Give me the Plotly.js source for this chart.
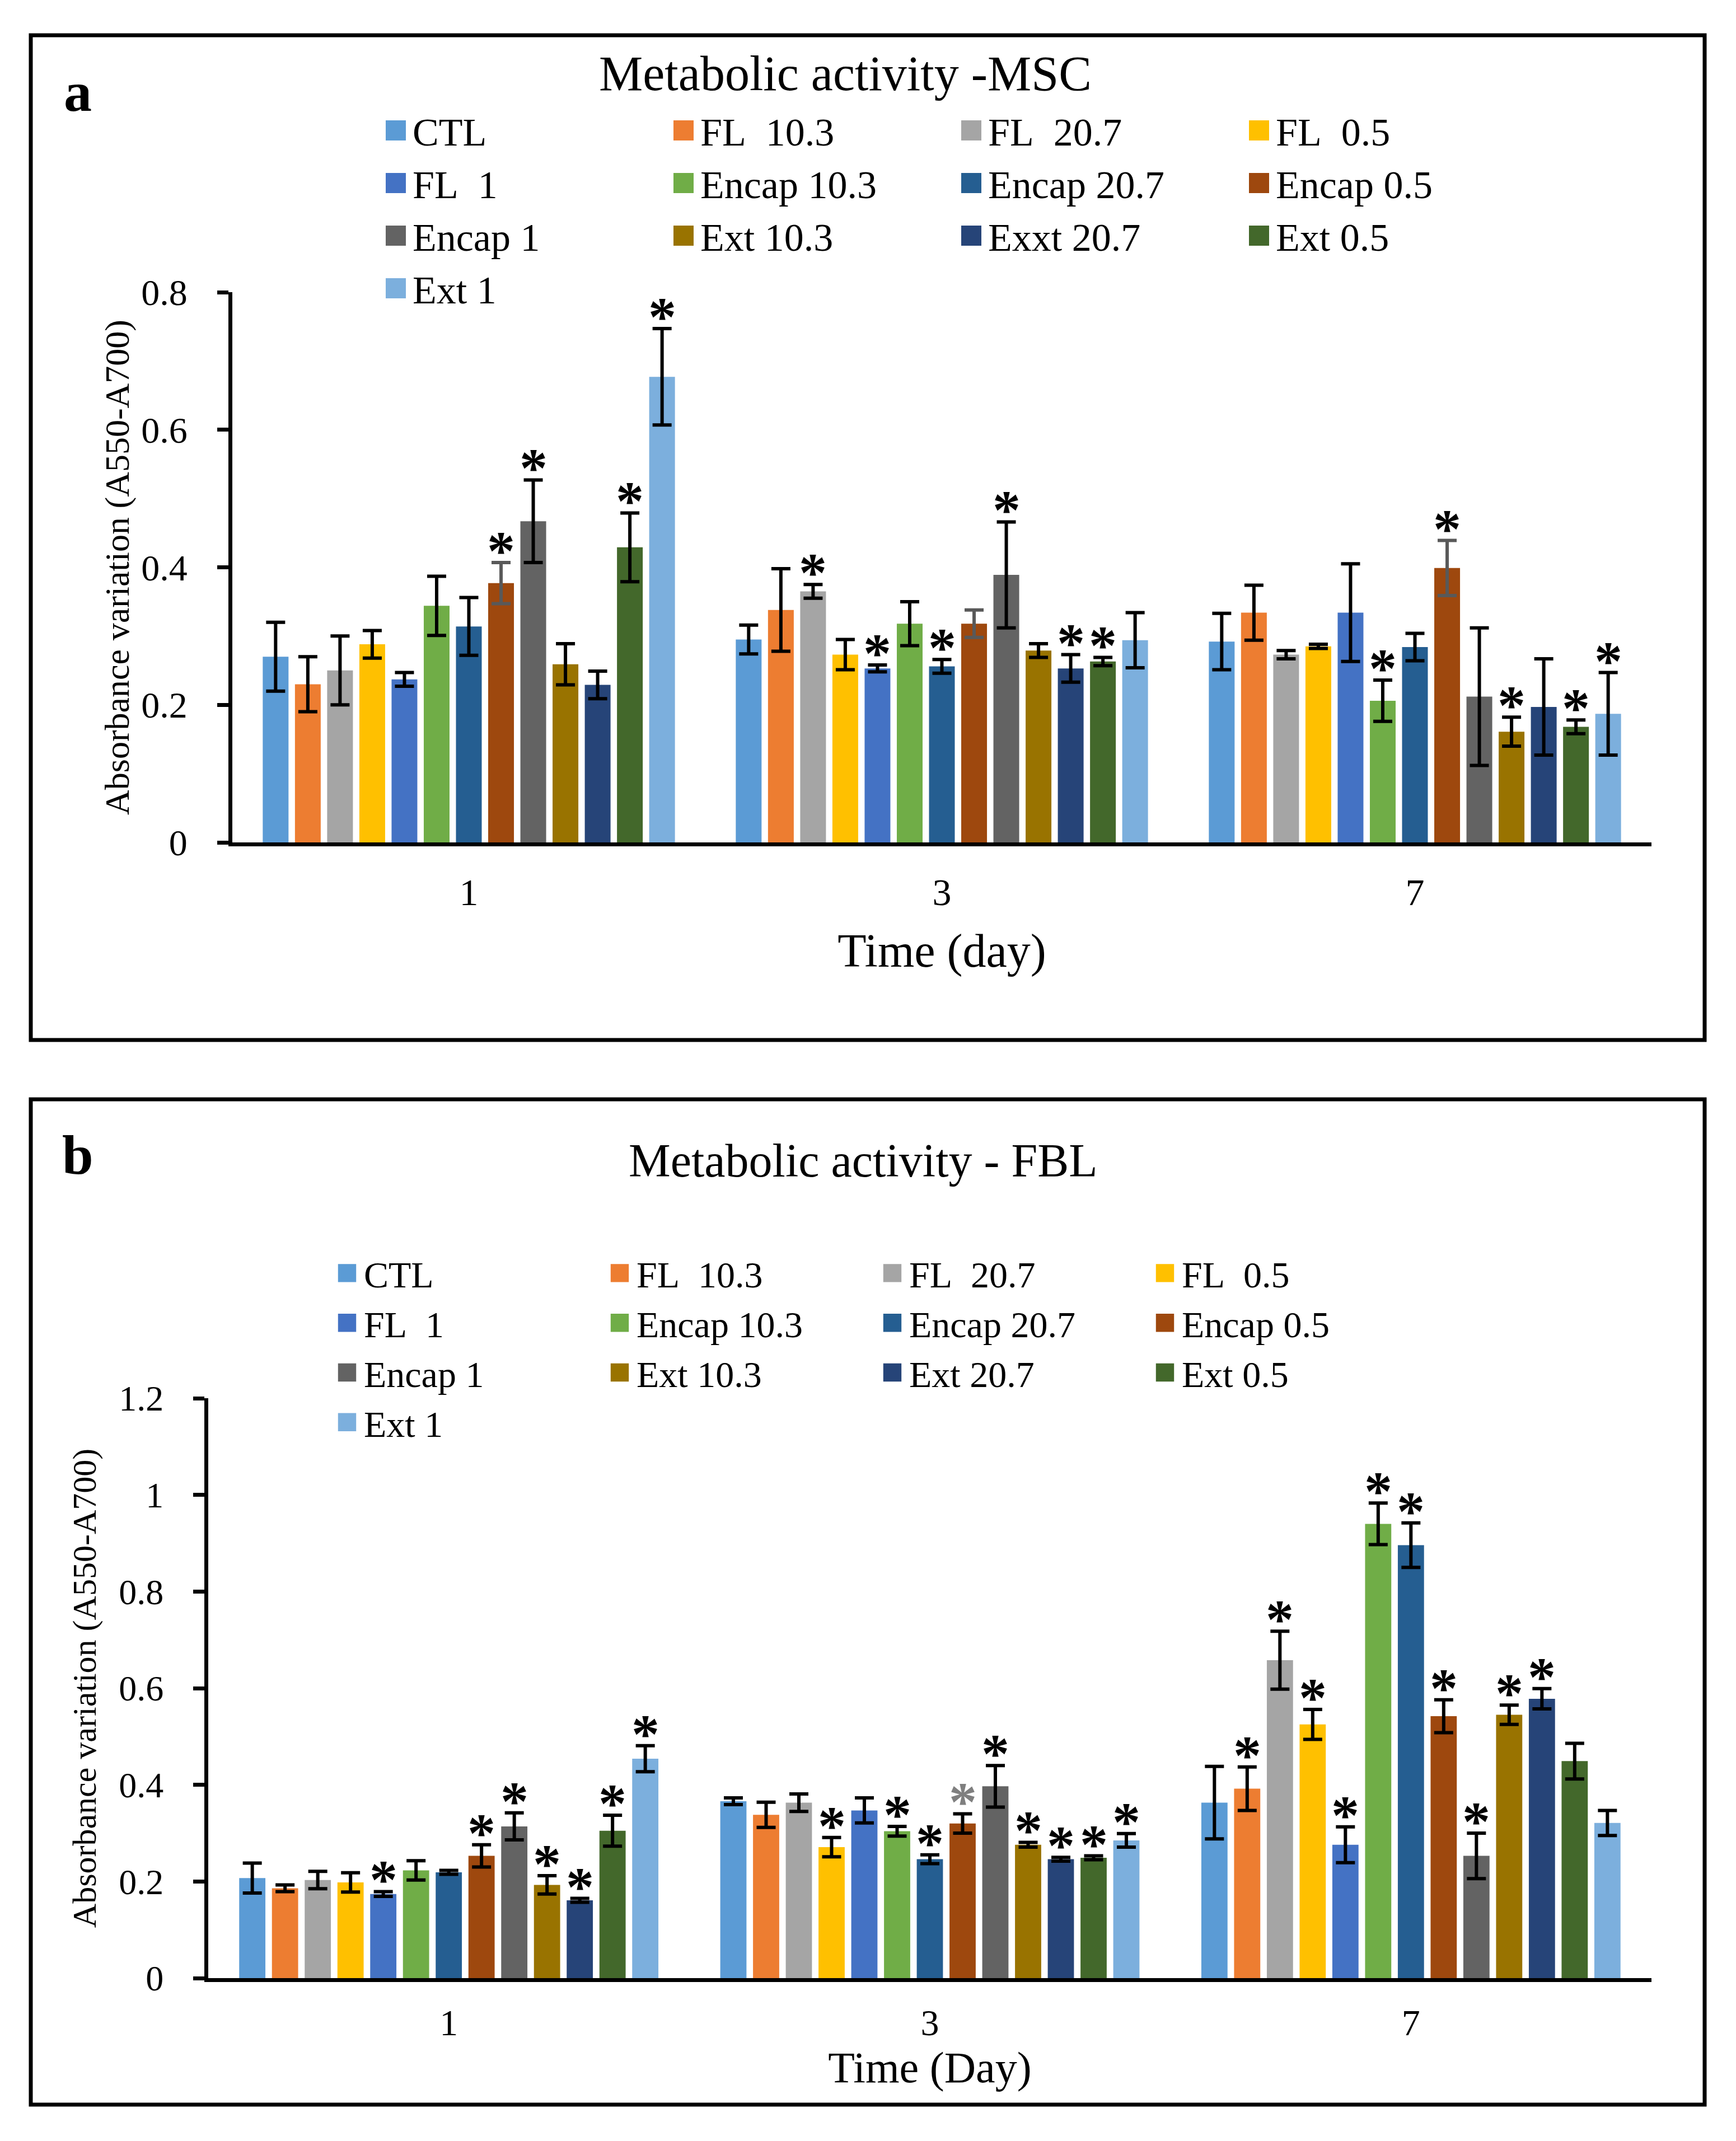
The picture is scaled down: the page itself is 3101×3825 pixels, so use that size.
<!DOCTYPE html>
<html>
<head>
<meta charset="utf-8">
<script src="https://cdn.plot.ly/plotly-3.0.1.min.js"></script>
<style>
html,body{margin:0;padding:0;background:#ffffff;}
#chart{width:3101px;height:3825px;}
</style>
</head>
<body>
<div id="chart"></div>
<script>
// ---------------- DATA ----------------
const days = ['1', '3', '7'];

const seriesA = ['CTL', 'FL\u00a0 10.3', 'FL\u00a0 20.7', 'FL\u00a0 0.5', 'FL\u00a0 1',
  'Encap 10.3', 'Encap 20.7', 'Encap 0.5', 'Encap 1', 'Ext 10.3', 'Exxt 20.7', 'Ext 0.5', 'Ext 1'];
const seriesB = ['CTL', 'FL\u00a0 10.3', 'FL\u00a0 20.7', 'FL\u00a0 0.5', 'FL\u00a0 1',
  'Encap 10.3', 'Encap 20.7', 'Encap 0.5', 'Encap 1', 'Ext 10.3', 'Ext 20.7', 'Ext 0.5', 'Ext 1'];

const colors = ['#5B9BD5', '#ED7D31', '#A5A5A5', '#FFC000', '#4472C4', '#70AD47', '#255E91',
  '#9E480E', '#636363', '#997300', '#264478', '#43682B', '#7CAFDD'];

// Panel a (MSC): values per series for days 1, 3, 7
const valuesA = [
  [0.270, 0.295, 0.292],
  [0.230, 0.338, 0.334],
  [0.250, 0.365, 0.273],
  [0.288, 0.273, 0.285],
  [0.237, 0.253, 0.334],
  [0.344, 0.318, 0.206],
  [0.314, 0.256, 0.284],
  [0.377, 0.318, 0.399],
  [0.467, 0.389, 0.212],
  [0.259, 0.279, 0.161],
  [0.229, 0.253, 0.197],
  [0.429, 0.263, 0.168],
  [0.677, 0.294, 0.187]
];
const errorsA = [
  [0.050, 0.021, 0.041],
  [0.040, 0.060, 0.040],
  [0.050, 0.010, 0.006],
  [0.020, 0.022, 0.003],
  [0.010, 0.005, 0.071],
  [0.043, 0.032, 0.030],
  [0.042, 0.010, 0.020],
  [0.030, 0.020, 0.040],
  [0.060, 0.077, 0.100],
  [0.030, 0.010, 0.021],
  [0.020, 0.020, 0.070],
  [0.050, 0.006, 0.010],
  [0.070, 0.040, 0.060]
];
// significance marks: 0 none, 1 black star, 2 grey star
const starsA = [
  [0, 0, 0], [0, 0, 0], [0, 1, 0], [0, 0, 0], [0, 1, 0], [0, 0, 1], [0, 1, 0],
  [1, 0, 1], [1, 1, 0], [0, 0, 1], [0, 1, 0], [1, 1, 1], [1, 0, 1]
];

// Panel b (FBL)
const valuesB = [
  [0.207, 0.366, 0.363],
  [0.186, 0.338, 0.392],
  [0.203, 0.363, 0.658],
  [0.198, 0.271, 0.525],
  [0.174, 0.347, 0.276],
  [0.223, 0.304, 0.940],
  [0.219, 0.246, 0.896],
  [0.253, 0.320, 0.542],
  [0.314, 0.397, 0.253],
  [0.193, 0.276, 0.545],
  [0.161, 0.246, 0.578],
  [0.305, 0.249, 0.449],
  [0.454, 0.285, 0.321]
];
const errorsB = [
  [0.031, 0.007, 0.075],
  [0.007, 0.026, 0.045],
  [0.018, 0.018, 0.060],
  [0.020, 0.020, 0.031],
  [0.005, 0.026, 0.037],
  [0.020, 0.010, 0.043],
  [0.004, 0.009, 0.046],
  [0.023, 0.020, 0.034],
  [0.028, 0.043, 0.047],
  [0.019, 0.005, 0.020],
  [0.004, 0.004, 0.021],
  [0.032, 0.004, 0.037],
  [0.027, 0.014, 0.026]
];
const starsB = [
  [0, 0, 0], [0, 0, 1], [0, 0, 1], [0, 1, 1], [1, 0, 1], [0, 1, 1], [0, 1, 1],
  [1, 2, 1], [1, 1, 1], [1, 1, 1], [1, 1, 1], [1, 1, 0], [1, 1, 0]
];

// ---------------- LAYOUT HELPERS ----------------
const W = 3101, H = 3825;
const px2x = px => px / W;
const py2y = py => 1 - py / H;
const FONT = 'Liberation Serif, "Times New Roman", Times, serif';
const BARGAP = 0.115;
const N = seriesA.length;
const dayPos = days.map((d, k) => k);

const data = [];
const annotations = [];

function addPanel(names, vals, errs, stars, xa, ya, legendId, prefix, errGreyIdx) {
  names.forEach((name, i) => {
    data.push({
      type: 'bar',
      name: name,
      x: dayPos,
      y: vals[i],
      xaxis: xa,
      yaxis: ya,
      legend: legendId,
      legendgroup: prefix + 'col' + (i % 4),
      marker: {color: colors[i], line: {width: 0}},
      error_y: {
        type: 'data', array: errs[i], visible: true,
        color: (i === errGreyIdx) ? '#595959' : '#000000',
        thickness: 6, width: 17
      },
      hoverinfo: 'skip'
    });
    const gw = 1 - BARGAP;
    const off = -gw / 2 + (i + 0.5) * gw / N;
    stars[i].forEach((s, k) => {
      if (!s) return;
      annotations.push({
        xref: xa, yref: ya,
        x: dayPos[k] + off,
        y: vals[i][k] + errs[i][k],
        text: '*',
        showarrow: false,
        xanchor: 'center', yanchor: 'bottom',
        yshift: -36,
        font: {family: FONT, size: 100, weight: 700, color: s === 2 ? '#7F7F7F' : '#000000'}
      });
    });
  });
}

addPanel(seriesA, valuesA, errorsA, starsA, 'x', 'y', 'legend', 'a', 7);
addPanel(seriesB, valuesB, errorsB, starsB, 'x2', 'y2', 'legend2', 'b', -1);

// panel labels and second title
annotations.push(
  {xref: 'paper', yref: 'paper', x: px2x(139), y: py2y(165), text: '<b>a</b>', showarrow: false,
   xanchor: 'center', yanchor: 'middle', font: {family: FONT, size: 100, color: '#000'}},
  {xref: 'paper', yref: 'paper', x: px2x(139), y: py2y(2063), text: '<b>b</b>', showarrow: false,
   xanchor: 'center', yanchor: 'middle', font: {family: FONT, size: 100, color: '#000'}},
  {xref: 'paper', yref: 'paper', x: px2x(1542), y: py2y(2073), text: 'Metabolic activity - FBL', showarrow: false,
   xanchor: 'center', yanchor: 'middle', font: {family: FONT, size: 84, color: '#000'}}
);

const axisCommonX = {
  range: [-0.5, 2.5], tickvals: dayPos, ticktext: days, ticks: '',
  showline: true, linewidth: 7, linecolor: '#000', showgrid: false, zeroline: false,
  fixedrange: true
};
const axisCommonY = {
  tick0: 0, dtick: 0.2, ticks: 'outside', ticklen: 20, tickwidth: 7, tickcolor: '#000',
  showline: true, linewidth: 7, linecolor: '#000', showgrid: false, zeroline: false,
  fixedrange: true
};

const legendCommon = {
  orientation: 'h', traceorder: 'grouped', xanchor: 'left', yanchor: 'top',
  itemwidth: 40, entrywidthmode: 'pixels', bgcolor: 'rgba(0,0,0,0)', borderwidth: 0,
  itemclick: false, itemdoubleclick: false
};

const layout = {
  width: W, height: H,
  margin: {l: 0, r: 0, t: 0, b: 0, autoexpand: false},
  paper_bgcolor: '#ffffff', plot_bgcolor: 'rgba(0,0,0,0)',
  font: {family: FONT, color: '#000000'},
  barmode: 'group', bargap: BARGAP, bargroupgap: 0.2,
  showlegend: true,
  hovermode: false,
  title: {
    text: 'Metabolic activity -MSC', font: {family: FONT, size: 88, color: '#000'},
    x: px2x(1510), xref: 'paper', xanchor: 'center',
    y: py2y(130), yref: 'container', yanchor: 'middle'
  },
  xaxis: Object.assign({}, axisCommonX, {
    domain: [px2x(415), px2x(2950)], anchor: 'y',
    tickfont: {size: 68}, ticklabelstandoff: 23,
    title: {text: 'Time (day)', font: {size: 84}, standoff: 40}
  }),
  yaxis: Object.assign({}, axisCommonY, {
    domain: [py2y(1505), py2y(522)], anchor: 'x', range: [0, 0.8],
    tickfont: {size: 66}, ticklabelstandoff: 40,
    title: {text: 'Absorbance variation (A550-A700)', font: {size: 62}, standoff: 4}
  }),
  xaxis2: Object.assign({}, axisCommonX, {
    domain: [px2x(372), px2x(2950)], anchor: 'y2',
    tickfont: {size: 66}, ticklabelstandoff: 16,
    title: {text: 'Time (Day)', font: {size: 78}, standoff: 0}
  }),
  yaxis2: Object.assign({}, axisCommonY, {
    domain: [py2y(3534), py2y(2498)], anchor: 'x2', range: [0, 1.2],
    tickfont: {size: 64}, ticklabelstandoff: 40,
    title: {text: 'Absorbance variation (A550-A700)', font: {size: 60}, standoff: 24}
  }),
  legend: Object.assign({}, legendCommon, {
    x: px2x(687), y: py2y(181), font: {family: FONT, size: 70, color: '#000'}, entrywidth: 459
  }),
  legend2: Object.assign({}, legendCommon, {
    x: px2x(600), y: py2y(2225), font: {family: FONT, size: 66, color: '#000'}, entrywidth: 432
  }),
  shapes: [
    {type: 'rect', xref: 'paper', yref: 'paper', x0: px2x(55), x1: px2x(3045), y0: py2y(63), y1: py2y(1858),
     line: {color: '#000', width: 7}, fillcolor: 'rgba(0,0,0,0)', layer: 'above'},
    {type: 'rect', xref: 'paper', yref: 'paper', x0: px2x(55), x1: px2x(3045), y0: py2y(1964), y1: py2y(3760),
     line: {color: '#000', width: 7}, fillcolor: 'rgba(0,0,0,0)', layer: 'above'}
  ],
  annotations: annotations
};

Plotly.newPlot('chart', data, layout, {displayModeBar: false, staticPlot: true}).then(function (gd) {
  // enlarge the small square legend swatches to match the reference
  gd.querySelectorAll('g.legend .legendpoints path').forEach(function (p) {
    p.setAttribute('transform', 'translate(20,0) scale(3)');
  });
  gd.querySelectorAll('g.legend2 .legendpoints path').forEach(function (p) {
    p.setAttribute('transform', 'translate(20,0) scale(2.7)');
  });
});
</script>
</body>
</html>
